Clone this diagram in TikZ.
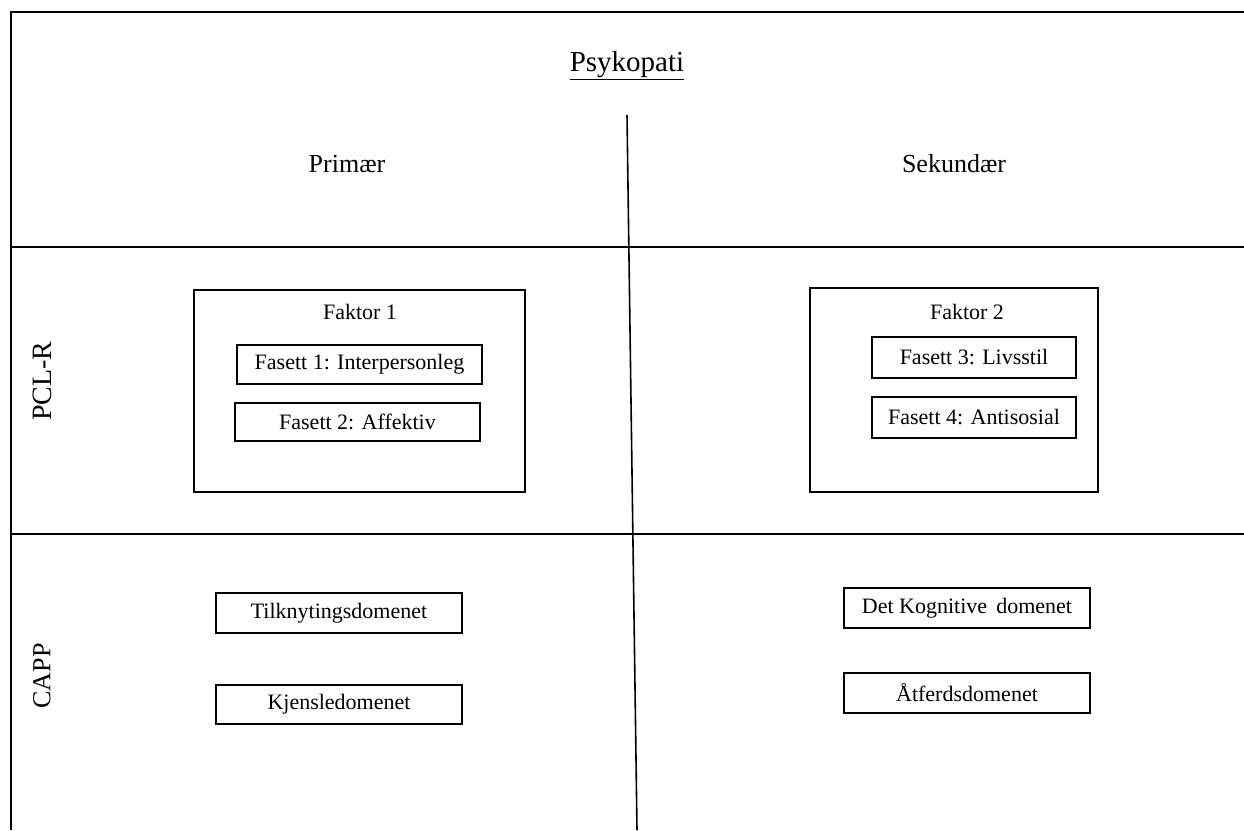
\documentclass[tikz,border=0pt]{standalone}
\usepackage{fontspec}
\setmainfont{Liberation Serif}
\tikzset{
  frameline/.style={line width=2pt},
  boxtext/.style={font=\fontsize{22}{26}\selectfont},
  headtext/.style={font=\fontsize{26}{30}\selectfont},
  titletext/.style={font=\fontsize{29}{33}\selectfont},
  facetbox/.style={rectangle,draw,line width=1.5pt,inner sep=0pt,boxtext},
  factorbox/.style={rectangle,draw,line width=1.5pt,inner sep=0pt}
}
\begin{document}
\begin{tikzpicture}[x=1pt,y=-1pt]
\useasboundingbox (0,0) rectangle (1244,830);

% frame and dividers
\draw[frameline] (11,830) -- (11,12) -- (1244,12);
\draw[frameline] (11,247) -- (1244,247);
\draw[frameline] (11,534) -- (1244,534);
\draw[line width=1.6pt] (627,115) -- (637,830);

% headings
\node[titletext] (title) at (627,66) {\underline{Psykopati}};
\node[headtext] (primar) at (347,164) {Primær};
\node[headtext] (sekundar) at (954,164) {Sekundær};
\node[headtext,font=\fontsize{28}{32}\selectfont,rotate=90] (pclr) at (42,381) {PCL-R};
\node[headtext,rotate=90] (capp) at (42,676) {CAPP};

% PCL-R
\node[factorbox,minimum width=331,minimum height=202] (faktor1) at (359.5,391) {};
\node[boxtext] (faktor1-label) at (360,312) {Faktor 1};
\node[facetbox,minimum width=245,minimum height=39] (fasett1) at (359.5,364.5) {Fasett 1: Interpersonleg};
\node[facetbox,minimum width=245,minimum height=38] (fasett2) at (357.5,422) {Fasett 2: Affektiv};

\node[factorbox,minimum width=288,minimum height=204] (faktor2) at (954,390) {};
\node[boxtext] (faktor2-label) at (967,312) {Faktor 2};
\node[facetbox,minimum width=204,minimum height=41] (fasett3) at (974,357.5) {Fasett 3: Livsstil};
\node[facetbox,minimum width=204,minimum height=41] (fasett4) at (974,417.5) {Fasett 4: Antisosial};

% CAPP
\node[facetbox,minimum width=246,minimum height=40] (tilknyting) at (339,613) {Tilknytingsdomenet};
\node[facetbox,minimum width=246,minimum height=39] (kjensle) at (339,704.5) {Kjensledomenet};
\node[facetbox,minimum width=246,minimum height=40] (kognitiv) at (967,608) {Det Kognitive\, domenet};
\node[facetbox,minimum width=246,minimum height=40] (atferd) at (967,693) {Åtferdsdomenet};

\end{tikzpicture}
\end{document}
